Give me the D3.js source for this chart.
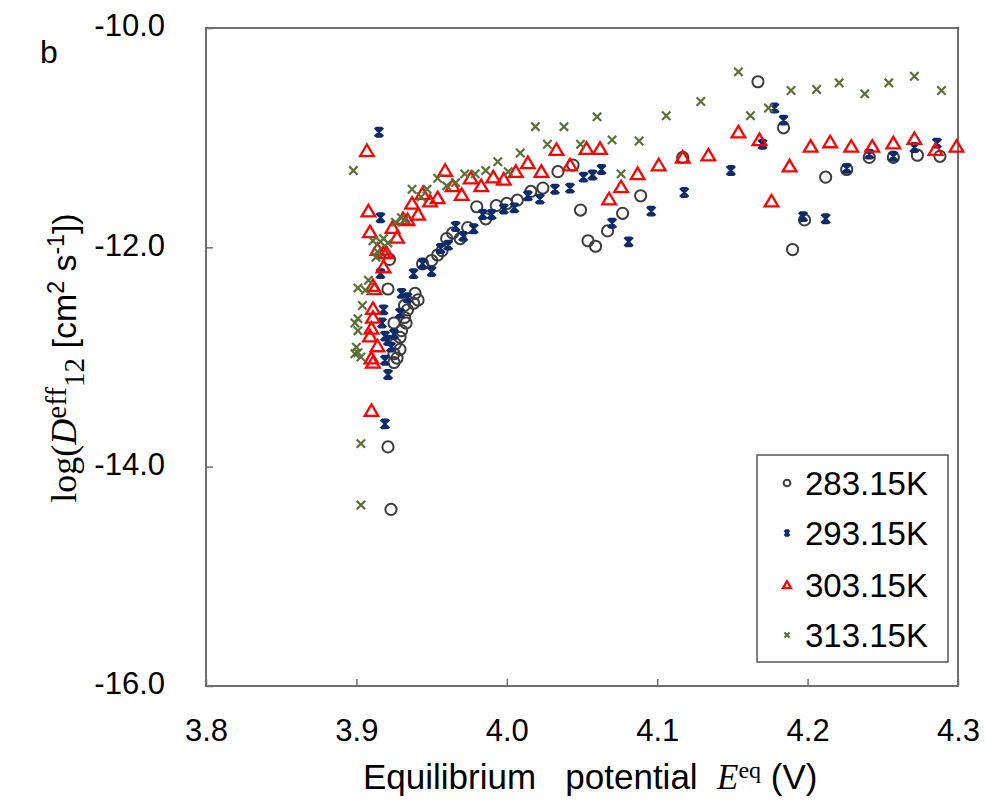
<!DOCTYPE html>
<html>
<head>
<meta charset="utf-8">
<script src="https://cdn.jsdelivr.net/npm/d3@7"></script>
<style>
  body { margin: 0; background: #fff; }
  svg { display: block; }
</style>
</head>
<body>
<div id="chart"></div>
<script>
// DATA: [E_eq (V), log(D_eff)]
const series283 = [
  [3.923, -14.39], [3.921, -13.82], [3.922, -12.11], [3.921, -12.38], [3.925, -12.69],
  [3.930, -12.76], [3.929, -12.82], [3.926, -12.88], [3.929, -12.93], [3.925, -12.97],
  [3.925, -13.05], [3.927, -13.01], [3.933, -12.69], [3.934, -12.57], [3.932, -12.53],
  [3.938, -12.51], [3.941, -12.48], [3.939, -12.42], [3.932, -12.64], [3.944, -12.15],
  [3.950, -12.12], [3.954, -12.07], [3.957, -12.03], [3.960, -11.92], [3.964, -11.87],
  [3.969, -11.92], [3.974, -11.82], [3.980, -11.63], [3.986, -11.74], [3.993, -11.62],
  [4.000, -11.60], [4.007, -11.57], [4.016, -11.49], [4.024, -11.46], [4.034, -11.31],
  [4.044, -11.25], [4.049, -11.66], [4.054, -11.94], [4.059, -11.99], [4.067, -11.85],
  [4.077, -11.69], [4.089, -11.53], [4.117, -11.18], [4.167, -10.49], [4.184, -10.91],
  [4.190, -12.02], [4.198, -11.75], [4.212, -11.36], [4.226, -11.29], [4.241, -11.18],
  [4.257, -11.18], [4.273, -11.16], [4.288, -11.17]
];
const series293 = [
  [3.915, -10.95], [3.916, -11.73], [3.916, -12.24], [3.918, -12.57], [3.929, -12.60],
  [3.917, -12.69], [3.919, -12.81], [3.925, -12.79], [3.921, -12.85], [3.919, -13.03],
  [3.921, -13.16], [3.919, -13.61], [3.923, -12.91], [3.930, -12.42], [3.934, -12.46],
  [3.938, -12.24], [3.944, -12.15], [3.950, -12.22], [3.956, -12.01], [3.961, -11.98],
  [3.966, -11.81], [3.971, -11.90], [3.978, -11.83], [3.984, -11.70], [3.990, -11.70],
  [3.998, -11.65], [4.005, -11.64], [4.014, -11.53], [4.022, -11.56], [4.032, -11.47],
  [4.042, -11.46], [4.051, -11.36], [4.057, -11.34], [4.063, -11.29], [4.070, -11.78],
  [4.081, -11.95], [4.096, -11.67], [4.118, -11.50], [4.149, -11.30], [4.170, -11.06],
  [4.178, -10.73], [4.184, -10.84], [4.197, -11.72], [4.212, -11.74], [4.226, -11.28],
  [4.241, -11.15], [4.257, -11.17], [4.271, -11.09], [4.286, -11.05]
];
const series303 = [
  [3.907, -11.12], [3.908, -11.67], [3.909, -11.86], [3.911, -12.35], [3.912, -12.38],
  [3.911, -12.56], [3.911, -12.64], [3.910, -12.74], [3.909, -12.81], [3.914, -12.90],
  [3.910, -13.01], [3.911, -13.05], [3.910, -13.49], [3.914, -12.02], [3.918, -12.05],
  [3.920, -12.05], [3.918, -12.18], [3.924, -11.82], [3.927, -11.91], [3.931, -11.74],
  [3.934, -11.75], [3.937, -11.60], [3.941, -11.70], [3.944, -11.51], [3.949, -11.58],
  [3.954, -11.55], [3.959, -11.30], [3.964, -11.44], [3.970, -11.52], [3.976, -11.37],
  [3.983, -11.44], [3.991, -11.36], [3.998, -11.38], [4.006, -11.31], [4.014, -11.23],
  [4.023, -11.31], [4.033, -11.11], [4.042, -11.25], [4.053, -11.10], [4.062, -11.10],
  [4.068, -11.56], [4.076, -11.45], [4.087, -11.33], [4.101, -11.25], [4.117, -11.18],
  [4.134, -11.16], [4.154, -10.95], [4.168, -11.02], [4.176, -11.58], [4.188, -11.26],
  [4.202, -11.08], [4.215, -11.04], [4.229, -11.08], [4.243, -11.08], [4.257, -11.05],
  [4.271, -11.01], [4.285, -11.11], [4.299, -11.08]
];
const series313 = [
  [3.898, -11.30], [3.901, -12.37], [3.903, -13.79], [3.903, -14.35], [3.904, -12.53],
  [3.901, -12.65], [3.899, -12.69], [3.901, -12.76], [3.900, -12.91], [3.901, -12.96],
  [3.903, -13.00], [3.899, -12.97], [3.908, -12.30], [3.906, -12.39], [3.911, -11.94],
  [3.916, -11.95], [3.918, -11.92], [3.921, -11.96], [3.913, -12.09], [3.914, -12.04],
  [3.926, -11.77], [3.930, -11.73], [3.932, -11.75], [3.937, -11.47], [3.943, -11.54],
  [3.947, -11.47], [3.954, -11.37], [3.960, -11.44], [3.966, -11.41], [3.972, -11.33],
  [3.979, -11.33], [3.986, -11.30], [3.994, -11.22], [4.001, -11.31], [4.009, -11.14],
  [4.019, -10.90], [4.027, -11.06], [4.038, -10.90], [4.049, -11.06], [4.060, -10.81],
  [4.070, -11.02], [4.076, -11.33], [4.088, -11.03], [4.106, -10.80], [4.129, -10.67],
  [4.154, -10.40], [4.162, -10.80], [4.174, -10.73], [4.189, -10.57], [4.206, -10.56],
  [4.221, -10.50], [4.238, -10.60], [4.254, -10.50], [4.271, -10.44], [4.289, -10.57]
];
const seriesLabels = ["283.15K", "293.15K", "303.15K", "313.15K"];
const xTicks = [3.8, 3.9, 4.0, 4.1, 4.2, 4.3];
const yTicks = [-10, -12, -14, -16];

// LAYOUT
const width = 986;
const height = 800;
const margin = { top: 28, right: 28, bottom: 114, left: 206 };
const innerW = width - margin.left - margin.right;
const innerH = height - margin.top - margin.bottom;
const sans = "'Liberation Sans', Arial, sans-serif";
const serif = "'Liberation Serif', 'Times New Roman', serif";

const xScale = d3.scaleLinear().domain([3.8, 4.3]).range([0, innerW]);
const yScale = d3.scaleLinear().domain([-16, -10]).range([innerH, 0]);

// plain hyphen for negatives, like the original
const fmt = d => d.toFixed(1);

const svg = d3.select("#chart")
  .append("svg")
  .attr("width", width)
  .attr("height", height);

const g = svg.append("g")
  .attr("transform", `translate(${margin.left},${margin.top})`);

// AXES (ticks point inward)
const xAxis = d3.axisBottom(xScale)
  .tickValues(xTicks)
  .tickSize(-7)
  .tickPadding(33)
  .tickFormat(fmt);
const yAxis = d3.axisLeft(yScale)
  .tickValues(yTicks)
  .tickSize(-7)
  .tickPadding(41)
  .tickFormat(fmt);

const gx = g.append("g")
  .attr("transform", `translate(0,${innerH})`)
  .call(xAxis);
const gy = g.append("g").call(yAxis);

[gx, gy].forEach(ax => {
  ax.select(".domain").remove();
  ax.selectAll(".tick line").attr("stroke", "#6e6e6e").attr("stroke-width", 1.5);
  ax.selectAll(".tick text")
    .attr("fill", "#000")
    .style("font-family", sans)
    .style("font-size", "31px");
});
gy.selectAll(".tick text").attr("dy", "0.25em");

// FRAME
g.append("rect")
  .attr("x", 0)
  .attr("y", 0)
  .attr("width", innerW)
  .attr("height", innerH)
  .attr("fill", "none")
  .attr("stroke", "#6e6e6e")
  .attr("stroke-width", 2);

// MARKERS
const markerDraw = {
  circle: (sel, s) => sel.append("circle")
    .attr("r", 5.6 * s)
    .attr("fill", "none")
    .attr("stroke", "#3d3d3d")
    .attr("stroke-width", 2),
  star: (sel, s) => sel.append("path")
    .attr("d", `M${-4.3 * s},${-4.3 * s}L${4.3 * s},${4.3 * s}M${4.3 * s},${-4.3 * s}L${-4.3 * s},${4.3 * s}` +
      `M0,${-5 * s}L0,${5 * s}M${-3 * s},${-4.3 * s}L${3 * s},${-4.3 * s}M${-3 * s},${4.3 * s}L${3 * s},${4.3 * s}`)
    .attr("fill", "none")
    .attr("stroke", "#0d2a6b")
    .attr("stroke-width", 2.3),
  triangle: (sel, s) => sel.append("path")
    .attr("d", `M0,${-6.3 * s}L${6.8 * s},${5.2 * s}L${-6.8 * s},${5.2 * s}Z`)
    .attr("fill", "none")
    .attr("stroke", "#ff0000")
    .attr("stroke-width", 2.3),
  cross: (sel, s) => sel.append("path")
    .attr("d", `M${-4.2 * s},${-4.2 * s}L${4.2 * s},${4.2 * s}M${4.2 * s},${-4.2 * s}L${-4.2 * s},${4.2 * s}`)
    .attr("fill", "none")
    .attr("stroke", "#5b7036")
    .attr("stroke-width", 2.2)
};

const seriesList = [
  { data: series283, marker: "circle" },
  { data: series293, marker: "star" },
  { data: series303, marker: "triangle" },
  { data: series313, marker: "cross" }
];

seriesList.forEach((s, i) => {
  const layer = g.append("g").attr("class", `series series__${i}`);
  layer.selectAll("g.pt")
    .data(s.data)
    .enter()
    .append("g")
    .attr("class", "pt")
    .attr("transform", d => `translate(${xScale(d[0])},${yScale(d[1])})`)
    .each(function () {
      markerDraw[s.marker](d3.select(this), 1);
    });
});

// LEGEND
const legend = svg.append("g").attr("transform", "translate(757,455)");
legend.append("rect")
  .attr("width", 191)
  .attr("height", 207)
  .attr("fill", "#fff")
  .attr("stroke", "#555")
  .attr("stroke-width", 1.5);
const legendRows = [28, 78, 130, 180];
seriesList.forEach((s, i) => {
  const row = legend.append("g").attr("transform", `translate(30,${legendRows[i]})`);
  markerDraw[s.marker](row, 0.6);
  row.append("text")
    .attr("x", 18)
    .attr("dy", "0.36em")
    .style("font-family", sans)
    .style("font-size", "33px")
    .text(seriesLabels[i]);
});

// PANEL LETTER
svg.append("text")
  .attr("x", 40)
  .attr("y", 63)
  .style("font-family", sans)
  .style("font-size", "32px")
  .text("b");

// X AXIS TITLE
const xTitle = svg.append("text")
  .attr("x", 363)
  .attr("y", 789)
  .style("font-size", "35px")
  .attr("xml:space", "preserve");
xTitle.append("tspan").style("font-family", sans).text("Equilibrium   potential  ");
xTitle.append("tspan").style("font-family", serif).style("font-style", "italic").text("E");
xTitle.append("tspan").style("font-family", serif).style("font-size", "24px").attr("dy", -11).text("eq");
xTitle.append("tspan").style("font-family", sans).attr("dy", 11).text(" (V)");

// Y AXIS TITLE
const yTitle = svg.append("text")
  .attr("transform", "translate(76,358) rotate(-90)")
  .attr("text-anchor", "middle")
  .style("font-size", "36px")
  .attr("xml:space", "preserve");
yTitle.append("tspan").style("font-family", serif).text("log(");
yTitle.append("tspan").style("font-family", serif).style("font-style", "italic").text("D");
yTitle.append("tspan").style("font-family", serif).style("font-size", "29px").attr("dy", -10).text("eff");
yTitle.append("tspan").style("font-family", serif).style("font-size", "29px").attr("dy", 18).text("12");
yTitle.append("tspan").style("font-family", sans).style("font-size", "34px").attr("dy", -8).text(" [cm");
yTitle.append("tspan").style("font-family", sans).style("font-size", "23px").attr("dy", -12).text("2");
yTitle.append("tspan").style("font-family", sans).style("font-size", "34px").attr("dy", 12).text(" s");
yTitle.append("tspan").style("font-family", sans).style("font-size", "23px").attr("dy", -12).text("-1");
yTitle.append("tspan").style("font-family", sans).style("font-size", "34px").attr("dy", 12).text("])");
</script>
</body>
</html>
